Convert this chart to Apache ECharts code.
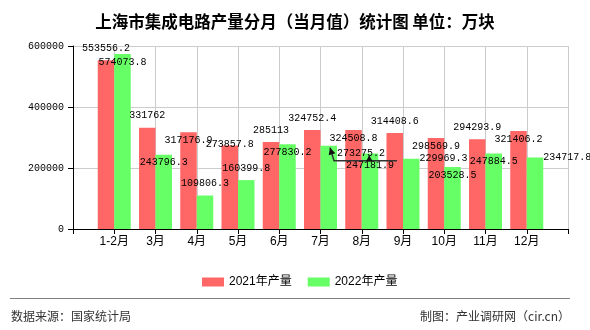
<!DOCTYPE html>
<html>
<head>
<meta charset="utf-8">
<script src="https://cdn.jsdelivr.net/npm/echarts@6/dist/echarts.min.js"></script>
<style>
html,body{margin:0;padding:0;background:#fff;}
#main{width:590px;height:330px;}
</style>
</head>
<body>
<div id="main"></div>
<script>
const titleText = '上海市集成电路产量分月（当月值）统计图 单位：万块';
const categories = ['1-2月','3月','4月','5月','6月','7月','8月','9月','10月','11月','12月'];
const seriesNames = ['2021年产量','2022年产量'];
const values2021 = [553556.2, 331762, 317176.9, 273857.8, 285113, 324752.4, 324508.8, 314408.6, 298569.9, 294293.9, 321406.2];
const values2022 = [574073.8, 243796.3, 109806.3, 160399.8, 277830.2, 273275.2, 247181.9, 229969.3, 203528.5, 247884.5, 234717.8];
const yMin = 0, yMax = 600000, yInterval = 200000;
const sourceText = '数据来源：国家统计局';
const creditText = '制图：产业调研网（cir.cn）';

// label placement styles (not data)
const place2021 = ['top','top','in','edge','top','top','in','top','in','top','in'];
const place2022 = ['in','in','top','top','in','side2','in2','side','in','in','side'];
const placeMap = {
  top:  {position:['50%',-12], align:'center'},
  in:   {position:['50%',8], align:'center'},
  in2:  {position:['50%',12], align:'center'},
  edge: {position:['50%',-1], align:'center'},
  side: {position:['100%',0], align:'left'},
  side2:{position:['100%',8], align:'left'}
};
const numFont = '"Liberation Mono","DejaVu Sans Mono",monospace';
const cjkFont = '"Liberation Sans","Noto Sans CJK SC",sans-serif';

function buildData(vals, places){
  const arr = ['-'];
  vals.forEach((v,i)=>{
    const p = placeMap[places[i]];
    arr.push({value:v, label:{show:true, position:p.position, align:p.align, verticalAlign:'middle'}});
  });
  arr.push('-');
  return arr;
}

const chart = echarts.init(document.getElementById('main'), null, {renderer:'canvas'});
const labelBase = {show:true, color:'#000', fontFamily:numFont, fontSize:10, formatter:(p)=>String(p.value)};

chart.setOption({
  animation:false,
  backgroundColor:'#fff',
  title:{text:titleText, left:'center', top:8, textStyle:{fontSize:16.5, fontWeight:'bold', color:'#000', fontFamily:'"Noto Sans CJK SC",sans-serif'}},
  legend:{data:seriesNames, left:197, top:271, itemWidth:22, itemHeight:9, itemGap:16, icon:'rect',
    textStyle:{fontSize:12, color:'#000', fontFamily:cjkFont}},
  grid:{left:73, right:22, top:46, bottom:101, containLabel:false},
  xAxis:{type:'category', boundaryGap:false, data:[''].concat(categories, ['']),
    axisLine:{lineStyle:{color:'#000'}}, axisTick:{show:true, interval:0, length:5, lineStyle:{color:'#000'}},
    axisLabel:{interval:0, margin:7, fontSize:12, color:'#000', fontFamily:cjkFont},
    splitLine:{show:true, interval:0, lineStyle:{color:'#ccc'}}},
  yAxis:{type:'value', min:yMin, max:yMax, interval:yInterval,
    axisLine:{show:true, lineStyle:{color:'#000'}}, axisTick:{show:true, length:5, lineStyle:{color:'#000'}},
    axisLabel:{margin:9, fontSize:10, color:'#000', fontFamily:numFont, formatter:(v)=>String(v)},
    splitLine:{show:true, lineStyle:{color:'#ccc'}}},
  series:[
    {name:seriesNames[0], type:'bar', data:buildData(values2021, place2021), barGap:'0%', barCategoryGap:'20%',
      itemStyle:{color:'#ff6666'}, label:labelBase, z:2},
    {name:seriesNames[1], type:'bar', data:buildData(values2022, place2022), barGap:'0%', barCategoryGap:'20%',
      itemStyle:{color:'#66ff66'}, label:labelBase, z:2}
  ]
});

// annotation arrows + footer
function px(cat, val){ return chart.convertToPixel({gridIndex:0}, [cat, val]); }
function arrowHead(from, to, len, half){
  const dx = to[0]-from[0], dy = to[1]-from[1];
  const d = Math.sqrt(dx*dx+dy*dy) || 1;
  const ux = dx/d, uy = dy/d;
  const bx = to[0]-ux*len, by = to[1]-uy*len;
  return [[to[0],to[1]],[bx - uy*half, by + ux*half],[bx + uy*half, by - ux*half]];
}
const p7 = px('7月', values2022[5]);
const p8 = px('8月', values2022[6]);
const p9 = px('9月', 0);
const tip1 = [p7[0]+9.5, p7[1]+2];
const elbow = [p7[0]+13.5, p7[1]+15];
const endPt = [p9[0]-6, elbow[1]];
const tip2 = [p8[0]+7.5, p8[1]+2];
const base2 = [tip2[0], elbow[1]];

chart.setOption({
  graphic:[
    {type:'polyline', shape:{points:[endPt, elbow, tip1]}, style:{stroke:'#333', lineWidth:1.5, fill:null}, z:100},
    {type:'polygon', shape:{points:arrowHead(elbow, tip1, 7, 3.5)}, style:{fill:'#111'}, z:100},
    {type:'line', shape:{x1:base2[0], y1:base2[1], x2:tip2[0], y2:tip2[1]}, style:{stroke:'#333', lineWidth:1.5}, z:100},
    {type:'polygon', shape:{points:arrowHead(base2, tip2, 6, 3.5)}, style:{fill:'#111'}, z:100},
    {type:'line', shape:{x1:10, y1:298.5, x2:570, y2:298.5}, style:{stroke:'#808080', lineWidth:1}},
    {type:'text', left:11, top:310, style:{text:sourceText, fill:'#333', font:'12px "Noto Sans CJK SC", sans-serif'}},
    {type:'text', right:20, top:310, style:{text:creditText, fill:'#333', font:'12px "Noto Sans CJK SC", sans-serif'}}
  ]
});
</script>
</body>
</html>
